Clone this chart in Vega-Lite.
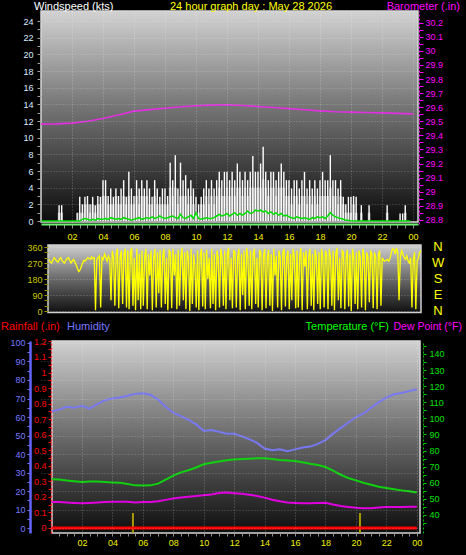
{
"$schema": "https://vega.github.io/schema/vega-lite/v6.json",
"background": "#000000",
"padding": {"left": 1, "top": 0, "right": 4, "bottom": 9},
"spacing": 21,
"bounds": "flush",
"config": {"view": {"stroke": null}, "font": "Liberation Sans", "axis": {"labelFont": "Liberation Sans", "labelFontSize": 9, "title": null}},
"datasets": {
"wind": [
{"m":0,"g":0,"s":0,"a":0},{"m":10,"g":0,"s":0,"a":0},{"m":20,"g":0,"s":0,"a":0},{"m":30,"g":0,"s":0,"a":0},{"m":40,"g":0,"s":0,"a":0},{"m":50,"g":0,"s":0,"a":0},
{"m":60,"g":0,"s":0,"a":0},{"m":70,"g":1.9,"s":1,"a":0},{"m":80,"g":1.9,"s":1,"a":0},{"m":90,"g":0,"s":0,"a":0},{"m":100,"g":0,"s":0,"a":0},{"m":110,"g":0,"s":0,"a":0},
{"m":120,"g":0,"s":0,"a":0},{"m":130,"g":0,"s":0,"a":0},{"m":140,"g":1,"s":0,"a":0},{"m":150,"g":2.9,"s":1,"a":0},{"m":160,"g":2,"s":1,"a":0.2},{"m":170,"g":2.9,"s":2,"a":0.3},
{"m":180,"g":3,"s":2,"a":0.2},{"m":190,"g":2,"s":1,"a":0.1},{"m":200,"g":2.9,"s":2,"a":0.2},{"m":210,"g":1.9,"s":1,"a":0.1},{"m":220,"g":3,"s":2,"a":0.3},{"m":230,"g":2.9,"s":2,"a":0.2},
{"m":240,"g":4.9,"s":3,"a":0.2},{"m":250,"g":4.9,"s":3,"a":0.3},{"m":260,"g":3,"s":2,"a":0.2},{"m":270,"g":3.9,"s":2,"a":0.4},{"m":280,"g":2.9,"s":2,"a":0.3},{"m":290,"g":3.9,"s":3,"a":0.2},
{"m":300,"g":3,"s":2,"a":0.3},{"m":310,"g":3.9,"s":2,"a":0.2},{"m":320,"g":4.9,"s":3,"a":0.4},{"m":330,"g":2.9,"s":2,"a":0.3},{"m":340,"g":5.9,"s":3,"a":0.2},{"m":350,"g":3.9,"s":2,"a":0.1},
{"m":360,"g":3,"s":2,"a":0.2},{"m":370,"g":4.9,"s":3,"a":0.3},{"m":380,"g":3.9,"s":2,"a":0.4},{"m":390,"g":4.9,"s":3,"a":0.2},{"m":400,"g":3.9,"s":3,"a":0.3},{"m":410,"g":4.9,"s":3,"a":0.4},
{"m":420,"g":3.9,"s":2,"a":0.3},{"m":430,"g":2.9,"s":2,"a":0.5},{"m":440,"g":4.9,"s":3,"a":0.3},{"m":450,"g":3.9,"s":2,"a":0.4},{"m":460,"g":2.9,"s":2,"a":0.6},{"m":470,"g":3.9,"s":2,"a":0.4},
{"m":480,"g":3.9,"s":2,"a":0.3},{"m":490,"g":3,"s":2,"a":0.4},{"m":500,"g":7.0,"s":4,"a":0.5},{"m":510,"g":4.9,"s":3,"a":0.6},{"m":520,"g":7.9,"s":4,"a":0.4},{"m":530,"g":3.9,"s":2,"a":0.3},
{"m":540,"g":7.0,"s":3,"a":0.8},{"m":550,"g":4.9,"s":3,"a":0.4},{"m":560,"g":5.5,"s":3,"a":0.3},{"m":570,"g":3.9,"s":2,"a":0.5},{"m":580,"g":4.9,"s":3,"a":0.7},{"m":590,"g":3.9,"s":2,"a":0.3},
{"m":600,"g":2.9,"s":1,"a":1.0},{"m":610,"g":2,"s":1,"a":0.3},{"m":620,"g":2.9,"s":2,"a":0.2},{"m":630,"g":3.9,"s":2,"a":0.3},{"m":640,"g":4.9,"s":3,"a":0.4},{"m":650,"g":3.9,"s":2,"a":0.3},
{"m":660,"g":4.9,"s":3,"a":0.3},{"m":670,"g":3.9,"s":2,"a":0.4},{"m":680,"g":4.9,"s":3,"a":0.6},{"m":690,"g":5.9,"s":4,"a":0.8},{"m":700,"g":4.9,"s":3,"a":0.6},{"m":710,"g":5.9,"s":3,"a":0.7},
{"m":720,"g":5.9,"s":4,"a":0.9},{"m":730,"g":4.9,"s":3,"a":0.6},{"m":740,"g":5.9,"s":4,"a":0.8},{"m":750,"g":4.9,"s":3,"a":1.0},{"m":760,"g":6.9,"s":4,"a":0.7},{"m":770,"g":5.9,"s":4,"a":0.9},
{"m":780,"g":4.9,"s":3,"a":0.7},{"m":790,"g":5.9,"s":4,"a":0.9},{"m":800,"g":4.9,"s":3,"a":1.2},{"m":810,"g":5.9,"s":4,"a":0.9},{"m":820,"g":7.8,"s":4,"a":1.0},{"m":830,"g":5.9,"s":4,"a":1.3},
{"m":840,"g":5.9,"s":4,"a":1.2},{"m":850,"g":6.9,"s":4,"a":1.3},{"m":860,"g":8.9,"s":5,"a":1.1},{"m":870,"g":5.9,"s":4,"a":1.2},{"m":880,"g":4.9,"s":3,"a":0.9},{"m":890,"g":5.9,"s":4,"a":1.1},
{"m":900,"g":5.9,"s":4,"a":0.8},{"m":910,"g":4.9,"s":3,"a":1.0},{"m":920,"g":5.9,"s":4,"a":0.7},{"m":930,"g":6.9,"s":4,"a":0.9},{"m":940,"g":5.9,"s":4,"a":0.6},{"m":950,"g":4.9,"s":3,"a":0.7},
{"m":960,"g":4.9,"s":3,"a":0.5},{"m":970,"g":3.9,"s":2,"a":0.4},{"m":980,"g":4.9,"s":3,"a":0.3},{"m":990,"g":4.9,"s":3,"a":0.5},{"m":1000,"g":3.9,"s":2,"a":0.4},{"m":1010,"g":4.9,"s":3,"a":0.3},
{"m":1020,"g":5.9,"s":3,"a":0.4},{"m":1030,"g":3.9,"s":2,"a":0.3},{"m":1040,"g":4.9,"s":3,"a":0.2},{"m":1050,"g":3.9,"s":2,"a":0.4},{"m":1060,"g":4.9,"s":3,"a":0.3},{"m":1070,"g":3.9,"s":2,"a":0.5},
{"m":1080,"g":4.9,"s":3,"a":0.4},{"m":1090,"g":5.9,"s":3,"a":0.5},{"m":1100,"g":4.9,"s":3,"a":0.3},{"m":1110,"g":4.9,"s":3,"a":0.6},{"m":1120,"g":7.9,"s":4,"a":1.0},{"m":1130,"g":4.9,"s":3,"a":0.7},
{"m":1140,"g":4.9,"s":3,"a":0.5},{"m":1150,"g":3.9,"s":2,"a":0.4},{"m":1160,"g":4.9,"s":3,"a":0.3},{"m":1170,"g":2.9,"s":2,"a":0.2},{"m":1180,"g":2,"s":1,"a":0.1},{"m":1190,"g":2.9,"s":1,"a":0.1},
{"m":1200,"g":2.9,"s":1,"a":0},{"m":1210,"g":3,"s":2,"a":0},{"m":1220,"g":2.9,"s":1,"a":0},{"m":1230,"g":0,"s":0,"a":0},{"m":1240,"g":1.9,"s":1,"a":0},{"m":1250,"g":0,"s":0,"a":0},
{"m":1260,"g":0,"s":0,"a":0},{"m":1270,"g":1.9,"s":1,"a":0},{"m":1280,"g":0,"s":0,"a":0},{"m":1290,"g":0,"s":0,"a":0},{"m":1300,"g":0,"s":0,"a":0},{"m":1310,"g":0,"s":0,"a":0},
{"m":1320,"g":0,"s":0,"a":0},{"m":1330,"g":0,"s":0,"a":0},{"m":1340,"g":1.9,"s":1,"a":0},{"m":1350,"g":0,"s":0,"a":0},{"m":1360,"g":0,"s":0,"a":0},{"m":1370,"g":0,"s":0,"a":0},
{"m":1380,"g":0,"s":0,"a":0},{"m":1390,"g":0.9,"s":0,"a":0},{"m":1400,"g":0.9,"s":0,"a":0},{"m":1410,"g":1.9,"s":1,"a":0},{"m":1420,"g":0,"s":0,"a":0},{"m":1430,"g":0,"s":0,"a":0}
],
"baro": [
{"m":0,"b":29.48},{"m":60,"b":29.482},{"m":120,"b":29.487},{"m":180,"b":29.5},{"m":240,"b":29.52},{"m":300,"b":29.545},{"m":360,"b":29.572},{"m":420,"b":29.583},{"m":480,"b":29.593},{"m":540,"b":29.603},{"m":600,"b":29.61},{"m":660,"b":29.615},{"m":720,"b":29.617},{"m":780,"b":29.612},{"m":840,"b":29.605},{"m":900,"b":29.598},{"m":960,"b":29.59},{"m":1020,"b":29.582},{"m":1080,"b":29.574},{"m":1140,"b":29.568},{"m":1200,"b":29.565},{"m":1260,"b":29.562},{"m":1320,"b":29.56},{"m":1380,"b":29.556},{"m":1440,"b":29.553}
],
"dir": [
{"m":0,"d":290},{"m":5,"d":275},{"m":10,"d":270},{"m":15,"d":285},{"m":20,"d":300},{"m":25,"d":290},{"m":30,"d":280},{"m":35,"d":275},{"m":40,"d":290},{"m":45,"d":300},{"m":50,"d":285},{"m":55,"d":275},
{"m":60,"d":270},{"m":65,"d":285},{"m":70,"d":295},{"m":75,"d":300},{"m":80,"d":285},{"m":85,"d":270},{"m":90,"d":280},{"m":95,"d":290},{"m":100,"d":275},{"m":105,"d":260},{"m":110,"d":240},{"m":115,"d":222},
{"m":120,"d":230},{"m":125,"d":250},{"m":130,"d":270},{"m":135,"d":285},{"m":140,"d":280},{"m":145,"d":290},{"m":150,"d":300},{"m":155,"d":295},{"m":160,"d":290},{"m":165,"d":305},{"m":170,"d":295},{"m":175,"d":300},
{"m":180,"d":5},{"m":185,"d":290},{"m":190,"d":300},{"m":195,"d":310},{"m":200,"d":20},{"m":205,"d":300},{"m":210,"d":290},{"m":215,"d":320},{"m":220,"d":300},{"m":225,"d":280},{"m":230,"d":310},{"m":235,"d":295},
{"m":240,"d":60},{"m":245,"d":340},{"m":250,"d":300},{"m":255,"d":30},{"m":260,"d":320},{"m":265,"d":350},{"m":270,"d":15},{"m":275,"d":300},{"m":280,"d":340},{"m":285,"d":40},{"m":290,"d":320},{"m":295,"d":350},
{"m":300,"d":20},{"m":305,"d":340},{"m":310,"d":10},{"m":315,"d":330},{"m":320,"d":355},{"m":325,"d":30},{"m":330,"d":300},{"m":335,"d":5},{"m":340,"d":350},{"m":345,"d":60},{"m":350,"d":320},{"m":355,"d":10},
{"m":360,"d":340},{"m":365,"d":30},{"m":370,"d":300},{"m":375,"d":350},{"m":380,"d":10},{"m":385,"d":320},{"m":390,"d":200},{"m":395,"d":340},{"m":400,"d":5},{"m":405,"d":300},{"m":410,"d":350},{"m":415,"d":20},
{"m":420,"d":330},{"m":425,"d":100},{"m":430,"d":345},{"m":435,"d":20},{"m":440,"d":310},{"m":445,"d":350},{"m":450,"d":40},{"m":455,"d":300},{"m":460,"d":5},{"m":465,"d":340},{"m":470,"d":330},{"m":475,"d":15},
{"m":480,"d":350},{"m":485,"d":200},{"m":490,"d":320},{"m":495,"d":10},{"m":500,"d":345},{"m":505,"d":30},{"m":510,"d":300},{"m":515,"d":355},{"m":520,"d":60},{"m":525,"d":330},{"m":530,"d":10},{"m":535,"d":340},
{"m":540,"d":300},{"m":545,"d":0},{"m":550,"d":350},{"m":555,"d":40},{"m":560,"d":320},{"m":565,"d":250},{"m":570,"d":20},{"m":575,"d":340},{"m":580,"d":5},{"m":585,"d":310},{"m":590,"d":350},{"m":595,"d":25},
{"m":600,"d":330},{"m":605,"d":10},{"m":610,"d":345},{"m":615,"d":180},{"m":620,"d":300},{"m":625,"d":15},{"m":630,"d":350},{"m":635,"d":40},{"m":640,"d":320},{"m":645,"d":5},{"m":650,"d":340},{"m":655,"d":300},
{"m":660,"d":20},{"m":665,"d":350},{"m":670,"d":300},{"m":675,"d":30},{"m":680,"d":340},{"m":685,"d":10},{"m":690,"d":320},{"m":695,"d":355},{"m":700,"d":60},{"m":705,"d":300},{"m":710,"d":15},{"m":715,"d":345},
{"m":720,"d":330},{"m":725,"d":20},{"m":730,"d":300},{"m":735,"d":350},{"m":740,"d":5},{"m":745,"d":320},{"m":750,"d":90},{"m":755,"d":340},{"m":760,"d":10},{"m":765,"d":355},{"m":770,"d":300},{"m":775,"d":30},
{"m":780,"d":340},{"m":785,"d":10},{"m":790,"d":320},{"m":795,"d":350},{"m":800,"d":40},{"m":805,"d":300},{"m":810,"d":20},{"m":815,"d":345},{"m":820,"d":330},{"m":825,"d":5},{"m":830,"d":310},{"m":835,"d":350},
{"m":840,"d":15},{"m":845,"d":300},{"m":850,"d":345},{"m":855,"d":30},{"m":860,"d":320},{"m":865,"d":0},{"m":870,"d":350},{"m":875,"d":200},{"m":880,"d":310},{"m":885,"d":20},{"m":890,"d":340},{"m":895,"d":300},
{"m":900,"d":5},{"m":905,"d":330},{"m":910,"d":350},{"m":915,"d":25},{"m":920,"d":300},{"m":925,"d":340},{"m":930,"d":10},{"m":935,"d":320},{"m":940,"d":60},{"m":945,"d":350},{"m":950,"d":300},{"m":955,"d":15},
{"m":960,"d":340},{"m":965,"d":20},{"m":970,"d":310},{"m":975,"d":355},{"m":980,"d":5},{"m":985,"d":330},{"m":990,"d":250},{"m":995,"d":340},{"m":1000,"d":10},{"m":1005,"d":300},{"m":1010,"d":350},{"m":1015,"d":30},
{"m":1020,"d":320},{"m":1025,"d":5},{"m":1030,"d":345},{"m":1035,"d":300},{"m":1040,"d":40},{"m":1045,"d":330},{"m":1050,"d":10},{"m":1055,"d":350},{"m":1060,"d":300},{"m":1065,"d":20},{"m":1070,"d":340},{"m":1075,"d":315},
{"m":1080,"d":10},{"m":1085,"d":350},{"m":1090,"d":300},{"m":1095,"d":30},{"m":1100,"d":340},{"m":1105,"d":5},{"m":1110,"d":320},{"m":1115,"d":355},{"m":1120,"d":60},{"m":1125,"d":300},{"m":1130,"d":15},{"m":1135,"d":340},
{"m":1140,"d":330},{"m":1145,"d":10},{"m":1150,"d":300},{"m":1155,"d":345},{"m":1160,"d":25},{"m":1165,"d":320},{"m":1170,"d":0},{"m":1175,"d":350},{"m":1180,"d":300},{"m":1185,"d":40},{"m":1190,"d":330},{"m":1195,"d":10},
{"m":1200,"d":340},{"m":1205,"d":300},{"m":1210,"d":20},{"m":1215,"d":350},{"m":1220,"d":310},{"m":1225,"d":5},{"m":1230,"d":330},{"m":1235,"d":300},{"m":1240,"d":50},{"m":1245,"d":340},{"m":1250,"d":320},{"m":1255,"d":15},
{"m":1260,"d":330},{"m":1265,"d":300},{"m":1270,"d":10},{"m":1275,"d":320},{"m":1280,"d":340},{"m":1285,"d":30},{"m":1290,"d":300},{"m":1295,"d":285},{"m":1300,"d":280},{"m":1305,"d":285},{"m":1310,"d":290},{"m":1315,"d":280},
{"m":1320,"d":295},{"m":1325,"d":330},{"m":1330,"d":350},{"m":1335,"d":345},{"m":1340,"d":320},{"m":1345,"d":355},{"m":1350,"d":330},{"m":1355,"d":60},{"m":1360,"d":300},{"m":1365,"d":340},{"m":1370,"d":320},{"m":1375,"d":300},
{"m":1380,"d":290},{"m":1385,"d":310},{"m":1390,"d":280},{"m":1395,"d":270},{"m":1400,"d":300},{"m":1405,"d":20},{"m":1410,"d":290},{"m":1415,"d":330},{"m":1420,"d":10},{"m":1425,"d":280},{"m":1430,"d":300},{"m":1435,"d":330},{"m":1440,"d":340}
],
"wx": [
{"m":0,"hum":63,"t":62.2,"dp":48.1},{"m":30,"hum":64,"t":62,"dp":48},{"m":60,"hum":65.5,"t":61.5,"dp":47.8},{"m":90,"hum":65,"t":61,"dp":47.5},{"m":120,"hum":66,"t":60.5,"dp":47.3},{"m":150,"hum":64.5,"t":60.8,"dp":47.5},
{"m":180,"hum":67,"t":60.8,"dp":47.8},{"m":210,"hum":69,"t":60.5,"dp":48},{"m":240,"hum":70,"t":60.2,"dp":48.3},{"m":270,"hum":70.5,"t":60,"dp":48.3},{"m":300,"hum":71.5,"t":59.3,"dp":48.2},{"m":330,"hum":72.5,"t":58.4,"dp":47.8},
{"m":360,"hum":72.8,"t":58.3,"dp":48},{"m":390,"hum":72,"t":58.4,"dp":48.1},{"m":420,"hum":69.5,"t":59.5,"dp":48.6},{"m":450,"hum":65.5,"t":62,"dp":49.4},{"m":480,"hum":62.3,"t":64.5,"dp":50.3},{"m":510,"hum":60.5,"t":66.5,"dp":50.8},
{"m":540,"hum":58.5,"t":67.8,"dp":51.3},{"m":570,"hum":56,"t":69.5,"dp":51.8},{"m":600,"hum":52.5,"t":71.5,"dp":52.3},{"m":630,"hum":53,"t":72.5,"dp":52.8},{"m":660,"hum":52,"t":73.2,"dp":53.6},{"m":690,"hum":51,"t":74,"dp":53.9},
{"m":720,"hum":51,"t":74.4,"dp":53.5},{"m":750,"hum":49.5,"t":74.8,"dp":53.2},{"m":780,"hum":48,"t":75,"dp":52.6},{"m":810,"hum":46,"t":75.2,"dp":51.8},{"m":840,"hum":43,"t":75.3,"dp":50.8},{"m":870,"hum":42,"t":74.8,"dp":49.5},
{"m":900,"hum":42.5,"t":74.2,"dp":48.5},{"m":930,"hum":41.5,"t":73.8,"dp":47.8},{"m":960,"hum":42.5,"t":73.5,"dp":47.5},{"m":990,"hum":43.5,"t":72.8,"dp":47.3},{"m":1020,"hum":44,"t":71.8,"dp":47.3},{"m":1050,"hum":45.5,"t":71,"dp":47.5},
{"m":1080,"hum":47.5,"t":69.8,"dp":47.6},{"m":1110,"hum":51,"t":67.5,"dp":46.5},{"m":1140,"hum":54,"t":65,"dp":45.6},{"m":1170,"hum":57,"t":63,"dp":45},{"m":1200,"hum":60,"t":61.5,"dp":44.5},{"m":1230,"hum":62,"t":60,"dp":44.2},
{"m":1260,"hum":65,"t":58.8,"dp":44.2},{"m":1290,"hum":68,"t":57.6,"dp":44.6},{"m":1320,"hum":70.5,"t":56.8,"dp":45},{"m":1350,"hum":72.3,"t":56,"dp":45},{"m":1380,"hum":73,"t":55.3,"dp":45},{"m":1410,"hum":74,"t":54.7,"dp":45.1},{"m":1440,"hum":75,"t":54,"dp":45.2}
],
"rain": [{"m":0,"r":0},{"m":1440,"r":0}],
"sun": [{"m":321},{"m":1216}],
"one": [{}]
},
"vconcat": [
{
"width": 377, "height": 213,
"resolve": {"scale": {"y": "independent"}, "axis": {"y": "independent"}},
"layer": [
{
"layer": [
{"data": {"name": "one"},
 "mark": {"type": "rect", "fill": {"gradient": "linear", "x1": 0, "y1": 0, "x2": 0, "y2": 1, "stops": [{"offset": 0, "color": "#d2d2d2"}, {"offset": 0.5, "color": "#6c6c6c"}, {"offset": 1, "color": "#0c0c0c"}]}, "stroke": "#d8d8d8", "strokeWidth": 1.5},
 "encoding": {
  "x": {"datum": 0, "type": "quantitative", "scale": {"domain": [0, 1459.4], "nice": false, "zero": false, "padding": 0}},
  "x2": {"datum": 1459.4},
  "y": {"datum": 25.2, "type": "quantitative", "scale": {"domain": [-0.36, 25.2], "nice": false, "zero": false}},
  "y2": {"datum": -0.12}
 }},
{"data": {"name": "wind"},
 "mark": {"type": "bar", "orient": "vertical", "size": 2.6, "color": "#9a9a9a"},
 "encoding": {
  "x": {"field": "m", "type": "quantitative", "scale": {"domain": [0, 1459.4], "nice": false, "zero": false, "padding": 0},
   "axis": {"orient": "bottom", "tickCount": 1000, "values": [30,60,90,120,150,180,210,240,270,300,330,360,390,420,450,480,510,540,570,600,630,660,690,720,750,780,810,840,870,900,930,960,990,1020,1050,1080,1110,1140,1170,1200,1230,1260,1290,1320,1350,1380,1410,1440],
    "labelExpr": "datum.value % 120 == 0 ? pad(toString(floor(datum.value/60)%24), 2, '0', 'left') : ''",
    "labelColor": "#f0f000", "labelOverlap": false, "labelFlush": false, "tickColor": "#909090", "tickSize": 4, "labelPadding": 4,
    "domainColor": "#70f070", "domainWidth": 2, "grid": true, "gridColor": "#ffffff", "gridDash": [1, 2],
    "gridOpacity": {"condition": {"test": "datum.value % 120 == 0", "value": 0.3}, "value": 0}, "title": null, "zindex": 1}},
  "y": {"field": "s", "type": "quantitative", "scale": {"domain": [-0.36, 25.2], "nice": false, "zero": false},
   "axis": {"orient": "left", "tickCount": 1000, "values": [0,1,2,3,4,5,6,7,8,9,10,11,12,13,14,15,16,17,18,19,20,21,22,23,24],
    "labelExpr": "datum.value % 2 == 0 ? toString(datum.value) : ''", "labelColor": "#d8ecff", "labelOverlap": false, "labelFlush": false,
    "tickColor": "#a0a0a0", "tickSize": 4, "labelPadding": 4, "domain": false, "grid": true, "gridColor": "#ffffff", "gridDash": [1, 2],
    "gridOpacity": {"condition": {"test": "datum.value % 2 == 0", "value": 0.25}, "value": 0}, "title": null, "zindex": 1}}
 }},
{"data": {"name": "wind"},
 "mark": {"type": "bar", "orient": "vertical", "size": 1.4, "color": "#ffffff"},
 "encoding": {
  "x": {"field": "m", "type": "quantitative", "scale": {"domain": [0, 1459.4], "nice": false, "zero": false, "padding": 0}},
  "y": {"field": "g", "type": "quantitative", "scale": {"domain": [-0.36, 25.2], "nice": false, "zero": false}}
 }},
{"data": {"name": "wind"},
 "mark": {"type": "line", "color": "#00e000", "strokeWidth": 1.5},
 "encoding": {
  "x": {"field": "m", "type": "quantitative", "scale": {"domain": [0, 1459.4], "nice": false, "zero": false, "padding": 0}},
  "y": {"field": "a", "type": "quantitative", "scale": {"domain": [-0.36, 25.2], "nice": false, "zero": false}}
 }},
{"data": {"name": "one"},
 "mark": {"type": "text", "text": "Windspeed (kts)", "align": "left", "baseline": "middle", "color": "#ffffff", "fontSize": 11, "font": "Liberation Sans"},
 "encoding": {
  "x": {"datum": -27, "type": "quantitative", "scale": {"domain": [0, 1459.4], "nice": false, "zero": false, "padding": 0}},
  "y": {"datum": 25.74, "type": "quantitative", "scale": {"domain": [-0.36, 25.2], "nice": false, "zero": false}}
 }},
{"data": {"name": "one"},
 "mark": {"type": "text", "text": "24 hour graph day : May 28 2026", "align": "center", "baseline": "middle", "color": "#ffff00", "fontSize": 11, "font": "Liberation Sans"},
 "encoding": {
  "x": {"datum": 813, "type": "quantitative", "scale": {"domain": [0, 1459.4], "nice": false, "zero": false, "padding": 0}},
  "y": {"datum": 25.74, "type": "quantitative", "scale": {"domain": [-0.36, 25.2], "nice": false, "zero": false}}
 }},
{"data": {"name": "one"},
 "mark": {"type": "text", "text": "Barometer (.in)", "align": "right", "baseline": "middle", "color": "#ff00ff", "fontSize": 11, "font": "Liberation Sans"},
 "encoding": {
  "x": {"datum": 1622, "type": "quantitative", "scale": {"domain": [0, 1459.4], "nice": false, "zero": false, "padding": 0}},
  "y": {"datum": 25.74, "type": "quantitative", "scale": {"domain": [-0.36, 25.2], "nice": false, "zero": false}}
 }}
]
},
{
"layer": [
{"data": {"name": "baro"},
 "mark": {"type": "line", "color": "#e030e0", "strokeWidth": 1.6},
 "encoding": {
  "x": {"field": "m", "type": "quantitative", "scale": {"domain": [0, 1459.4], "nice": false, "zero": false, "padding": 0}},
  "y": {"field": "b", "type": "quantitative", "scale": {"domain": [28.771, 30.283], "nice": false, "zero": false},
   "axis": {"orient": "right", "offset": 1, "tickCount": 1000, "values": [28.8,28.85,28.9,28.95,29,29.05,29.1,29.15,29.2,29.25,29.3,29.35,29.4,29.45,29.5,29.55,29.6,29.65,29.7,29.75,29.8,29.85,29.9,29.95,30,30.05,30.1,30.15,30.2],
    "labelExpr": "round(datum.value*100) % 10 == 0 ? toString(round(datum.value*10)/10) : ''", "labelColor": "#ff00ff", "labelOverlap": false, "labelFlush": false,
    "tickColor": "#ff00ff", "tickSize": 4, "labelPadding": 2, "domainColor": "#ff00ff", "domainDash": [2, 2], "grid": false, "title": null, "zindex": 1}}
 }}
]
}
]
},
{
"width": 380, "height": 75,
"layer": [
{"data": {"name": "one"},
 "mark": {"type": "rect", "fill": {"gradient": "linear", "x1": 0, "y1": 0, "x2": 0, "y2": 1, "stops": [{"offset": 0, "color": "#cfcfcf"}, {"offset": 0.5, "color": "#6a6a6a"}, {"offset": 1, "color": "#101010"}]}, "stroke": "#d0d0d0", "strokeWidth": 1.5},
 "encoding": {
  "x": {"datum": -3.9, "type": "quantitative", "scale": {"domain": [-31, 1440], "nice": false, "zero": false}, "axis": null},
  "x2": {"datum": 1440},
  "y": {"datum": 371, "type": "quantitative", "scale": {"domain": [-50.6, 371.25], "nice": false, "zero": false}},
  "y2": {"datum": -9}
 }},
{"data": {"name": "dir"},
 "mark": {"type": "line", "color": "#ffff00", "strokeWidth": 1.3},
 "encoding": {
  "x": {"field": "m", "type": "quantitative", "scale": {"domain": [-31, 1440], "nice": false, "zero": false}, "axis": null},
  "y": {"field": "d", "type": "quantitative", "scale": {"domain": [-50.6, 371.25], "nice": false, "zero": false},
   "axis": {"orient": "left", "offset": -7, "tickCount": 1000, "values": [0,30,60,90,120,150,180,210,240,270,300,330,360],
    "labelExpr": "datum.value % 90 == 0 ? toString(datum.value) : ''", "labelColor": "#c8c800", "labelOverlap": false, "labelFlush": false,
    "tickColor": "#909000", "tickSize": 4, "labelPadding": 2, "domain": false, "grid": true, "gridColor": "#ffffff", "gridDash": [1, 2],
    "gridOpacity": {"condition": {"test": "datum.value % 90 == 0", "value": 0.3}, "value": 0}, "title": null, "zindex": 1}}
 }},
{"data": {"name": "one"},
 "mark": {"type": "text", "text": "N", "align": "center", "baseline": "middle", "color": "#ffff00", "fontSize": 13, "font": "Liberation Sans"},
 "encoding": {"x": {"datum": 1506, "type": "quantitative", "scale": {"domain": [-31, 1440], "nice": false, "zero": false}, "axis": null},
  "y": {"datum": 360, "type": "quantitative", "scale": {"domain": [-50.6, 371.25], "nice": false, "zero": false}}}},
{"data": {"name": "one"},
 "mark": {"type": "text", "text": "W", "align": "center", "baseline": "middle", "color": "#ffff00", "fontSize": 13, "font": "Liberation Sans"},
 "encoding": {"x": {"datum": 1506, "type": "quantitative", "scale": {"domain": [-31, 1440], "nice": false, "zero": false}, "axis": null},
  "y": {"datum": 270, "type": "quantitative", "scale": {"domain": [-50.6, 371.25], "nice": false, "zero": false}}}},
{"data": {"name": "one"},
 "mark": {"type": "text", "text": "S", "align": "center", "baseline": "middle", "color": "#ffff00", "fontSize": 13, "font": "Liberation Sans"},
 "encoding": {"x": {"datum": 1506, "type": "quantitative", "scale": {"domain": [-31, 1440], "nice": false, "zero": false}, "axis": null},
  "y": {"datum": 180, "type": "quantitative", "scale": {"domain": [-50.6, 371.25], "nice": false, "zero": false}}}},
{"data": {"name": "one"},
 "mark": {"type": "text", "text": "E", "align": "center", "baseline": "middle", "color": "#ffff00", "fontSize": 13, "font": "Liberation Sans"},
 "encoding": {"x": {"datum": 1506, "type": "quantitative", "scale": {"domain": [-31, 1440], "nice": false, "zero": false}, "axis": null},
  "y": {"datum": 90, "type": "quantitative", "scale": {"domain": [-50.6, 371.25], "nice": false, "zero": false}}}},
{"data": {"name": "one"},
 "mark": {"type": "text", "text": "N", "align": "center", "baseline": "middle", "color": "#ffff00", "fontSize": 13, "font": "Liberation Sans"},
 "encoding": {"x": {"datum": 1506, "type": "quantitative", "scale": {"domain": [-31, 1440], "nice": false, "zero": false}, "axis": null},
  "y": {"datum": 0, "type": "quantitative", "scale": {"domain": [-50.6, 371.25], "nice": false, "zero": false}}}}
]
},
{
"width": 379, "height": 192,
"resolve": {"scale": {"y": "independent"}, "axis": {"y": "independent"}},
"layer": [
{
"layer": [
{"data": {"name": "one"},
 "mark": {"type": "rect", "fill": {"gradient": "linear", "x1": 0, "y1": 0, "x2": 0, "y2": 1, "stops": [{"offset": 0, "color": "#d0d0d0"}, {"offset": 0.5, "color": "#6a6a6a"}, {"offset": 1, "color": "#0e0e0e"}]}, "stroke": "#d8d8d8", "strokeWidth": 1.5},
 "encoding": {
  "x": {"datum": 2, "type": "quantitative", "scale": {"domain": [-41.4, 1452.7], "nice": false, "zero": false}},
  "x2": {"datum": 1452.7},
  "y": {"datum": 101.08, "type": "quantitative", "scale": {"domain": [-2.7, 101.08], "nice": false, "zero": false}},
  "y2": {"datum": -2.7}
 }},
{"data": {"name": "wx"},
 "mark": {"type": "line", "color": "#7878f0", "strokeWidth": 2},
 "encoding": {
  "x": {"field": "m", "type": "quantitative", "scale": {"domain": [-41.4, 1452.7], "nice": false, "zero": false},
   "axis": {"orient": "bottom", "tickCount": 1000, "values": [30,60,90,120,150,180,210,240,270,300,330,360,390,420,450,480,510,540,570,600,630,660,690,720,750,780,810,840,870,900,930,960,990,1020,1050,1080,1110,1140,1170,1200,1230,1260,1290,1320,1350,1380,1410,1440],
    "labelExpr": "datum.value % 120 == 0 ? pad(toString(floor(datum.value/60)%24), 2, '0', 'left') : ''",
    "labelColor": "#f0f000", "labelOverlap": false, "labelFlush": false, "tickColor": "#909090", "tickSize": 3, "labelPadding": 2,
    "domain": false, "grid": true, "gridColor": "#ffffff", "gridDash": [1, 2],
    "gridOpacity": {"condition": {"test": "datum.value % 120 == 0", "value": 0.3}, "value": 0}, "title": null, "zindex": 1}},
  "y": {"field": "hum", "type": "quantitative", "scale": {"domain": [-2.7, 101.08], "nice": false, "zero": false},
   "axis": {"orient": "left", "offset": 11, "tickCount": 1000, "values": [0,5,10,15,20,25,30,35,40,45,50,55,60,65,70,75,80,85,90,95,100],
    "labelExpr": "datum.value % 10 == 0 ? toString(datum.value) : ''", "labelColor": "#7878ff", "labelOverlap": false, "labelFlush": false,
    "tickColor": "#7878ff", "tickSize": 3, "labelPadding": 2, "domainColor": "#6464ff", "domainWidth": 2.5,
    "grid": true, "gridColor": "#ffffff", "gridDash": [1, 2],
    "gridOpacity": {"condition": {"test": "datum.value % 10 == 0", "value": 0.25}, "value": 0}, "title": null, "zindex": 1}}
 }},
{"data": {"name": "one"},
 "mark": {"type": "text", "text": "Rainfall (.in)", "align": "left", "baseline": "middle", "color": "#ff0000", "fontSize": 11, "font": "Liberation Sans"},
 "encoding": {"x": {"datum": -199, "type": "quantitative", "scale": {"domain": [-41.4, 1452.7], "nice": false, "zero": false}},
  "y": {"datum": 108.65, "type": "quantitative", "scale": {"domain": [-2.7, 101.08], "nice": false, "zero": false}}}},
{"data": {"name": "one"},
 "mark": {"type": "text", "text": "Humidity", "align": "left", "baseline": "middle", "color": "#7878ff", "fontSize": 11, "font": "Liberation Sans"},
 "encoding": {"x": {"datum": 61, "type": "quantitative", "scale": {"domain": [-41.4, 1452.7], "nice": false, "zero": false}},
  "y": {"datum": 108.65, "type": "quantitative", "scale": {"domain": [-2.7, 101.08], "nice": false, "zero": false}}}},
{"data": {"name": "one"},
 "mark": {"type": "text", "text": "Temperature (°F)", "align": "right", "baseline": "middle", "color": "#00ff00", "fontSize": 11, "font": "Liberation Sans"},
 "encoding": {"x": {"datum": 1330, "type": "quantitative", "scale": {"domain": [-41.4, 1452.7], "nice": false, "zero": false}},
  "y": {"datum": 108.65, "type": "quantitative", "scale": {"domain": [-2.7, 101.08], "nice": false, "zero": false}}}},
{"data": {"name": "one"},
 "mark": {"type": "text", "text": "Dew Point (°F)", "align": "right", "baseline": "middle", "color": "#ff00ff", "fontSize": 10.5, "font": "Liberation Sans"},
 "encoding": {"x": {"datum": 1618, "type": "quantitative", "scale": {"domain": [-41.4, 1452.7], "nice": false, "zero": false}},
  "y": {"datum": 108.65, "type": "quantitative", "scale": {"domain": [-2.7, 101.08], "nice": false, "zero": false}}}}
]
},
{
"layer": [
{"data": {"name": "sun"},
 "mark": {"type": "rule", "color": "#a89a00", "strokeWidth": 2},
 "encoding": {
  "x": {"field": "m", "type": "quantitative", "scale": {"domain": [-41.4, 1452.7], "nice": false, "zero": false}},
  "y": {"datum": 0.0965, "type": "quantitative", "scale": {"domain": [-0.0322, 1.2029], "nice": false, "zero": false}},
  "y2": {"datum": -0.0322}
 }},
{"data": {"name": "rain"},
 "mark": {"type": "line", "color": "#ff0000", "strokeWidth": 3},
 "encoding": {
  "x": {"field": "m", "type": "quantitative", "scale": {"domain": [-41.4, 1452.7], "nice": false, "zero": false}},
  "y": {"field": "r", "type": "quantitative", "scale": {"domain": [-0.0322, 1.2029], "nice": false, "zero": false},
   "axis": {"orient": "left", "offset": -10, "tickCount": 1000, "values": [0,0.05,0.1,0.15,0.2,0.25,0.3,0.35,0.4,0.45,0.5,0.55,0.6,0.65,0.7,0.75,0.8,0.85,0.9,0.95,1,1.05,1.1,1.15,1.2],
    "labelExpr": "round(datum.value*100) % 10 == 0 ? toString(round(datum.value*10)/10) : ''", "labelColor": "#ff0000", "labelOverlap": false, "labelFlush": false,
    "tickColor": "#ff0000", "tickSize": 3, "labelPadding": 2, "domainColor": "#ff3030", "domainDash": [2, 2], "domainWidth": 1.5, "grid": false, "title": null, "zindex": 1}}
 }}
]
},
{
"layer": [
{"data": {"name": "wx"},
 "mark": {"type": "line", "color": "#10d010", "strokeWidth": 2},
 "encoding": {
  "x": {"field": "m", "type": "quantitative", "scale": {"domain": [-41.4, 1452.7], "nice": false, "zero": false}},
  "y": {"field": "t", "type": "quantitative", "scale": {"domain": [28.82, 148.07], "nice": false, "zero": false},
   "axis": {"orient": "right", "offset": 3, "tickCount": 1000, "values": [35,40,45,50,55,60,65,70,75,80,85,90,95,100,105,110,115,120,125,130,135,140,145],
    "labelExpr": "datum.value % 10 == 0 ? toString(datum.value) : ''", "labelColor": "#00e000", "labelOverlap": false, "labelFlush": false,
    "tickColor": "#00d000", "tickSize": 3, "labelPadding": 3, "domainColor": "#00c000", "domainDash": [2, 2], "grid": false, "title": null, "zindex": 1}}
 }},
{"data": {"name": "wx"},
 "mark": {"type": "line", "color": "#e000e0", "strokeWidth": 2},
 "encoding": {
  "x": {"field": "m", "type": "quantitative", "scale": {"domain": [-41.4, 1452.7], "nice": false, "zero": false}},
  "y": {"field": "dp", "type": "quantitative", "scale": {"domain": [28.82, 148.07], "nice": false, "zero": false}}
 }}
]
}
]
}
]
}
